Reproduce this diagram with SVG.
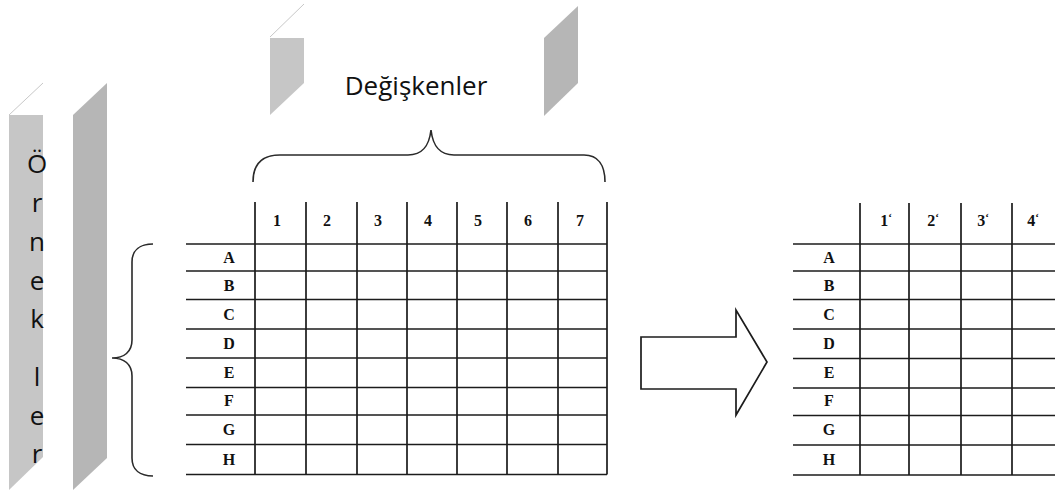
<svg xmlns="http://www.w3.org/2000/svg" width="1055" height="493" viewBox="0 0 1055 493">
  <style>
    .grid { stroke: #1c1c1c; stroke-width: 1.7; fill: none; }
    .brace { stroke: #2a2a2a; stroke-width: 1.6; fill: none; }
    .cell { font-family: "Liberation Serif", "DejaVu Serif", serif; font-weight: bold; font-size: 16px; fill: #111; text-anchor: middle; }
    .label { font-family: "Open Sans", "Noto Sans", sans-serif; font-size: 26px; fill: #111; }
    .face-light { fill: #c6c6c6; }
    .face-dark { fill: #b6b6b6; }
    .edge { stroke: #c8c8c8; stroke-width: 1; fill: none; }
  </style>

  <rect width="1055" height="493" fill="#ffffff"/>

  <!-- samples column: two slanted panels with vertical caption -->
  <g id="samples-panel">
    <path class="edge" d="M9,115 L43,83"/>
    <polygon class="face-light" points="9,115 43,115 43,457 9,490"/>
    <polygon class="face-dark" points="73,115 107,83 107,458 73,490"/>
    <g class="label" text-anchor="middle">
      <text x="37" y="173">Ö</text>
      <text x="37" y="212">r</text>
      <text x="37" y="251">n</text>
      <text x="37" y="290">e</text>
      <text x="37" y="328">k</text>
      <text x="37" y="386">l</text>
      <text x="37" y="425">e</text>
      <text x="37" y="463">r</text>
    </g>
  </g>

  <!-- variables header: two small panels and caption -->
  <g id="variables-panel">
    <path class="edge" d="M270,37 L304,4"/>
    <polygon class="face-light" points="270,38 304,38 304,83 270,115"/>
    <polygon class="face-dark" points="544,38 578,6 578,83 544,116"/>
    <text class="label" x="416" y="95" text-anchor="middle">Değişkenler</text>
  </g>

  <!-- curly braces -->
  <g id="braces">
    <path class="brace" d="M253,182 C253,165 261,155 280,155 L408,155 C422,155 429,147 431,130 C433,147 440,155 454,155 L584,155 C598,155 605,165 605,182"/>
    <path class="brace" d="M153,244 C140,244 132,250 132,262 L132,340 C132,352 124,358 112,358 C124,358 132,364 132,376 L132,458 C132,470 140,476 153,476"/>
  </g>

  <!-- original data matrix: samples A-H by variables 1-7 -->
  <g id="data-matrix">
    <g class="grid">
      <path d="M186,244 H607 M186,271 H607 M186,299.5 H607 M186,329 H607 M186,358 H607 M186,387.5 H607 M186,415 H607 M186,444.5 H607 M186,474.5 H607"/>
      <path d="M255,202 V474.5 M306,202 V474.5 M357,202 V474.5 M407,202 V474.5 M457,202 V474.5 M507,202 V474.5 M558,202 V474.5 M607,202 V474.5"/>
    </g>
    <g class="cell">
      <text x="277" y="226">1</text>
      <text x="327" y="226">2</text>
      <text x="378" y="226">3</text>
      <text x="428" y="226">4</text>
      <text x="478" y="226">5</text>
      <text x="528" y="226">6</text>
      <text x="580" y="226">7</text>
      <text x="229" y="263">A</text>
      <text x="229" y="291">B</text>
      <text x="229" y="320">C</text>
      <text x="229" y="349">D</text>
      <text x="229" y="378">E</text>
      <text x="229" y="406">F</text>
      <text x="229" y="435">G</text>
      <text x="229" y="465">H</text>
    </g>
  </g>

  <!-- transformation arrow -->
  <g id="transform-arrow">
    <polygon points="641,337 736,337 736,310 767,362 736,415 736,389 641,389" fill="#ffffff" stroke="#1c1c1c" stroke-width="1.7" stroke-linejoin="miter"/>
  </g>

  <!-- reduced matrix: samples A-H by components 1'-4' -->
  <g id="reduced-matrix">
    <g class="grid">
      <path d="M793,244 H1055 M793,271 H1055 M793,299.5 H1055 M793,329 H1055 M793,358.5 H1055 M793,388 H1055 M793,415.5 H1055 M793,445 H1055 M793,475 H1055"/>
      <path d="M860,203 V475 M909,203 V475 M961,203 V475 M1012,203 V475"/>
    </g>
    <g class="cell">
      <text x="886" y="226">1<tspan font-size="11" dy="-5">‘</tspan></text>
      <text x="933" y="226">2<tspan font-size="11" dy="-5">‘</tspan></text>
      <text x="983" y="226">3<tspan font-size="11" dy="-5">‘</tspan></text>
      <text x="1033" y="226">4<tspan font-size="11" dy="-5">‘</tspan></text>
      <text x="829" y="263">A</text>
      <text x="829" y="291">B</text>
      <text x="829" y="320">C</text>
      <text x="829" y="349">D</text>
      <text x="829" y="378">E</text>
      <text x="829" y="406">F</text>
      <text x="829" y="435">G</text>
      <text x="829" y="465">H</text>
    </g>
  </g>
</svg>
